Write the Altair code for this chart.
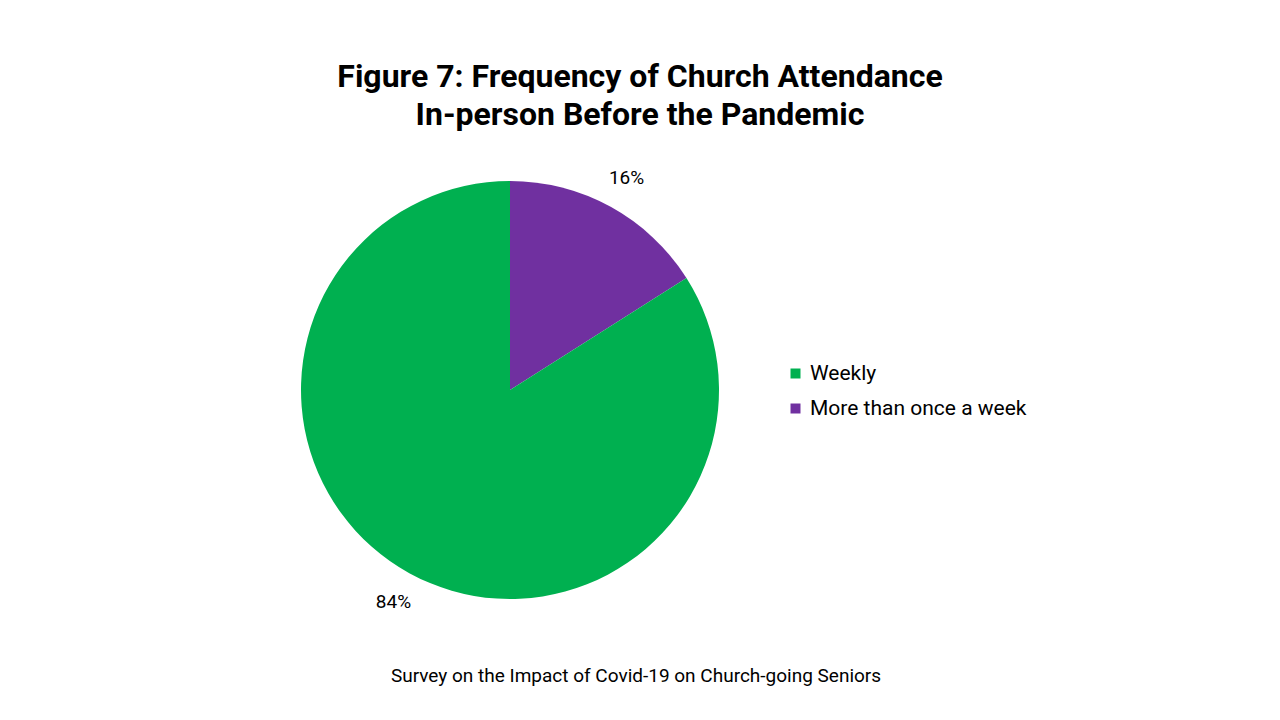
import altair as alt
import pandas as pd

categories = ["More than once a week", "Weekly"]
values = [16, 84]
labels = ["16%", "84%"]
order = [0, 1]
legend_order = ["Weekly", "More than once a week"]
colors = ["#00B050", "#7030A0"]
title_lines = ["Figure 7: Frequency of Church Attendance", "In-person Before the Pandemic"]
footnote = ["Survey on the Impact of Covid-19 on Church-going Seniors"]

FONT = "Roboto"

df = pd.DataFrame({"category": categories, "value": values, "label": labels, "order": order})
foot_df = pd.DataFrame({"text": footnote})

CX, CY = 510, 240

base = alt.Chart(df).encode(
    theta=alt.Theta("value:Q", stack=True),
    order=alt.Order("order:Q"),
)

pie = base.mark_arc(outerRadius=209).encode(
    x=alt.value(CX),
    y=alt.value(CY),
    color=alt.Color(
        "category:N",
        scale=alt.Scale(domain=legend_order, range=colors),
        legend=alt.Legend(
            title=None,
            orient="none",
            legendX=785,
            legendY=213,
            symbolType="square",
            symbolSize=100,
            symbolStrokeWidth=0,
            labelFont=FONT,
            labelFontSize=21,
            labelColor="#000000",
            labelLimit=400,
            rowPadding=13,
            labelOffset=4,
        ),
    ),
)

text = base.mark_text(radius=242, font=FONT, fontSize=19, color="#000000").encode(
    x=alt.value(CX),
    y=alt.value(CY),
    text="label:N",
)

foot = alt.Chart(foot_df).mark_text(font=FONT, fontSize=19, color="#000000").encode(
    x=alt.value(636),
    y=alt.value(526),
    text="text:N",
)

chart = (
    alt.layer(pie, text, foot)
    .properties(
        width=1280,
        height=570,
        padding={"left": 0, "top": 150, "right": 0, "bottom": 0},
        autosize=alt.AutoSizeParams(type="none"),
        title=alt.TitleParams(
            text=title_lines,
            font=FONT,
            fontSize=32,
            fontWeight="bold",
            color="#000000",
            anchor="middle",
            lineHeight=38,
            offset=18,
        ),
        background="white",
    )
    .configure_view(stroke=None)
)

chart.save("out.html", embed_options={"renderer": "svg", "actions": False})
